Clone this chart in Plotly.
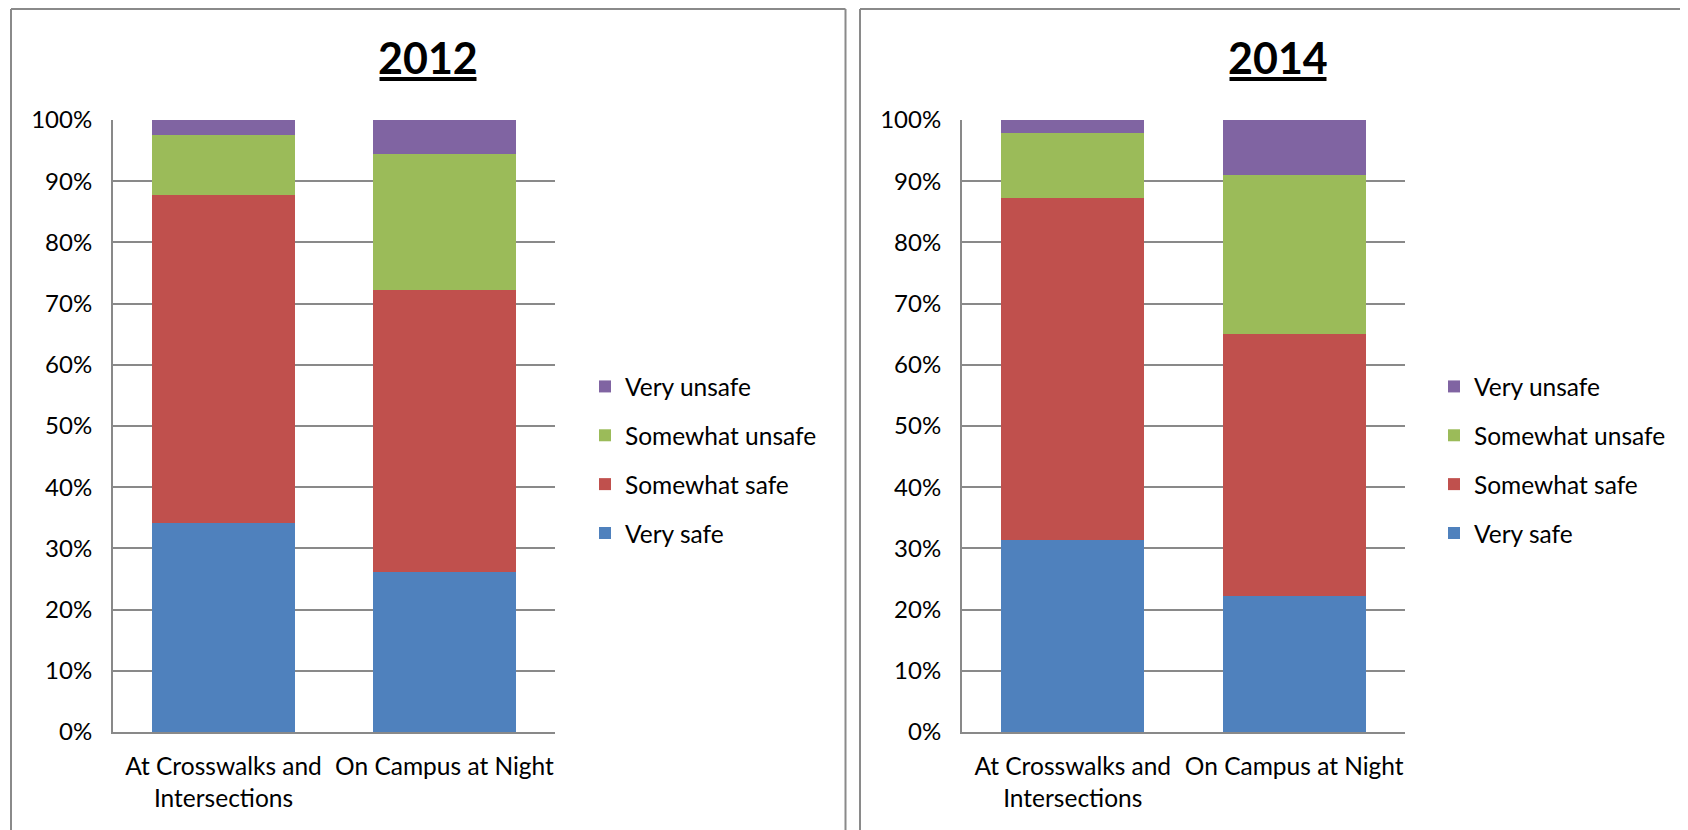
import plotly.graph_objects as go

W, H = 1688, 830
OFF = 8  # page body margin offset

categories = ["At Crosswalks and<br>Intersections", "On Campus at Night"]
series_names = ["Very safe", "Somewhat safe", "Somewhat unsafe", "Very unsafe"]
colors = ["#4F81BD", "#C0504D", "#9BBB59", "#8064A2"]

very_safe_2012 = [0.341, 0.261]
somewhat_safe_2012 = [0.536, 0.461]
somewhat_unsafe_2012 = [0.099, 0.223]
very_unsafe_2012 = [0.024, 0.055]

very_safe_2014 = [0.314, 0.222]
somewhat_safe_2014 = [0.559, 0.429]
somewhat_unsafe_2014 = [0.105, 0.259]
very_unsafe_2014 = [0.022, 0.090]

data_2012 = [very_safe_2012, somewhat_safe_2012, somewhat_unsafe_2012, very_unsafe_2012]
data_2014 = [very_safe_2014, somewhat_safe_2014, somewhat_unsafe_2014, very_unsafe_2014]

titles = ["2012", "2014"]

FONT = "Lato, Calibri, sans-serif"
GRID = "#898989"
BORDER = "#8a8a8a"

def px_x(p):
    return (p - OFF) / W

def px_y(p):
    return 1 - (p - OFF) / H

fig = go.Figure()

for (data, xa, ya, leg) in [(data_2012, "x", "y", "legend"), (data_2014, "x2", "y2", "legend2")]:
    n = len(series_names)
    for i, (name, vals, col) in enumerate(zip(series_names, data, colors)):
        fig.add_trace(go.Bar(
            x=categories, y=vals, name=name, xaxis=xa, yaxis=ya,
            marker=dict(color=col, line=dict(width=0)),
            legend=leg, legendgroup=leg + name, legendrank=100 * (n - i),
        ))

ydom = [px_y(732), px_y(120)]
axis_common_y = dict(
    range=[0, 1], tickformat=".0%", dtick=0.1, tick0=0,
    showgrid=True, gridcolor=GRID, gridwidth=2,
    showline=True, linecolor=GRID, linewidth=2,
    ticks="", ticklabelstandoff=14, automargin=False,
    tickfont=dict(family=FONT, size=24, color="#000000"),
    zeroline=False, fixedrange=True,
)
axis_common_x = dict(
    showgrid=False, showline=True, linecolor=GRID, linewidth=2,
    ticks="", ticklabelstandoff=12, automargin=False,
    tickfont=dict(family=FONT, size=24.5, color="#000000"),
    fixedrange=True,
)

legend_common = dict(
    traceorder="grouped", font=dict(family=FONT, size=24.5, color="#000000"),
    tracegroupgap=14, bgcolor="rgba(0,0,0,0)", yanchor="middle", xanchor="left",
    itemclick=False, itemdoubleclick=False,
)

def seg(x0, y0, x1, y1, color=BORDER, width=2):
    return dict(type="line", xref="paper", yref="paper",
                x0=px_x(x0), y0=px_y(y0), x1=px_x(x1), y1=px_y(y1),
                line=dict(color=color, width=width), layer="below")

bottom = H + OFF - 1
top = 9

title_centers = [428, 1278]
title_half = 48.5

fig.update_layout(
    width=W, height=H,
    margin=dict(l=0, r=0, t=0, b=0, autoexpand=False),
    paper_bgcolor="white", plot_bgcolor="white",
    barmode="stack", bargap=0.355,
    showlegend=True,
    xaxis=dict(domain=[px_x(113), px_x(555)], anchor="y", **axis_common_x),
    yaxis=dict(domain=ydom, anchor="x", **axis_common_y),
    xaxis2=dict(domain=[px_x(962), px_x(1405)], anchor="y2", **axis_common_x),
    yaxis2=dict(domain=ydom, anchor="x2", **axis_common_y),
    legend=dict(x=px_x(585), y=px_y(460), **legend_common),
    legend2=dict(x=px_x(1434), y=px_y(460), **legend_common),
    shapes=[
        seg(11, top, 11, bottom),
        seg(11, top, 845.5, top),
        seg(845.5, top, 845.5, bottom),
        seg(860, top, 860, bottom),
        seg(860, top, W + OFF, top),
    ] + [
        seg(c - title_half, 79, c + title_half, 79, color="#000000", width=4)
        for c in title_centers
    ],
    annotations=[
        dict(text="<b>" + t + "</b>", x=px_x(c), y=px_y(57), xref="paper", yref="paper",
             showarrow=False, font=dict(family=FONT, size=43, color="#000000"),
             xanchor="center", yanchor="middle")
        for t, c in zip(titles, title_centers)
    ],
)

fig.write_html("out.html")
